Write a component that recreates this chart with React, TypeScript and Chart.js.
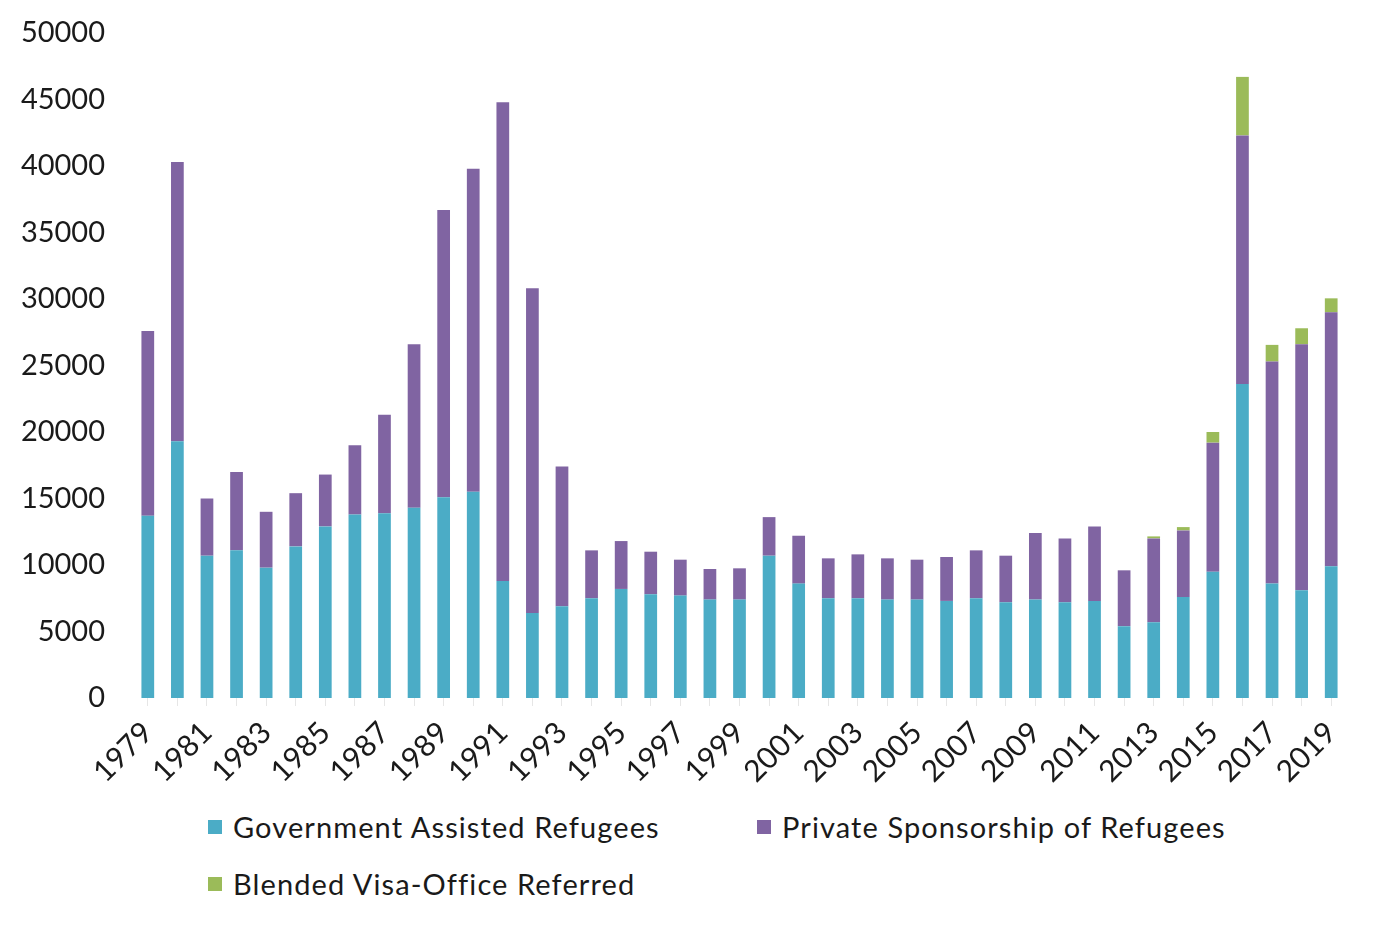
import React, { useEffect, useRef } from "react";
import { Chart, registerables } from "chart.js";

Chart.register(...registerables);

const years = [
  "1979", "1980", "1981", "1982", "1983", "1984", "1985", "1986", "1987", "1988",
  "1989", "1990", "1991", "1992", "1993", "1994", "1995", "1996", "1997", "1998",
  "1999", "2000", "2001", "2002", "2003", "2004", "2005", "2006", "2007", "2008",
  "2009", "2010", "2011", "2012", "2013", "2014", "2015", "2016", "2017", "2018",
  "2019",
];

const governmentAssisted = [
  13700, 19300, 10700, 11100, 9800, 11400, 12900, 13800, 13900, 14300,
  15100, 15500, 8800, 6400, 6900, 7500, 8200, 7800, 7700, 7400,
  7400, 10700, 8600, 7500, 7500, 7400, 7400, 7300, 7500, 7200,
  7400, 7200, 7300, 5400, 5700, 7600, 9500, 23600, 8600, 8100,
  9900,
];

const privateSponsorship = [
  13900, 21000, 4300, 5900, 4200, 4000, 3900, 5200, 7400, 12300,
  21600, 24300, 36000, 24400, 10500, 3600, 3600, 3200, 2700, 2300,
  2350, 2900, 3600, 3000, 3300, 3100, 3000, 3300, 3600, 3500,
  5000, 4800, 5600, 4200, 6300, 5000, 9700, 18700, 16700, 18500,
  19100,
];

const blendedVisaOffice = [
  0, 0, 0, 0, 0, 0, 0, 0, 0, 0,
  0, 0, 0, 0, 0, 0, 0, 0, 0, 0,
  0, 0, 0, 0, 0, 0, 0, 0, 0, 0,
  0, 0, 0, 0, 150, 250, 800, 4400, 1250, 1200,
  1050,
];

const seriesNames = [
  "Government Assisted Refugees",
  "Private Sponsorship of Refugees",
  "Blended Visa-Office Referred",
];
const seriesColors = ["#4BACC6", "#8064A2", "#9BBB59"];

const yMin = 0;
const yMax = 50000;
const yStep = 5000;

const FONT = "Lato, 'Open Sans', sans-serif";

export default function App() {
  const canvasRef = useRef<HTMLCanvasElement | null>(null);

  useEffect(() => {
    const canvas = canvasRef.current;
    if (!canvas) return;
    const values = [governmentAssisted, privateSponsorship, blendedVisaOffice];
    const chart = new Chart(canvas, {
      type: "bar",
      data: {
        labels: years,
        datasets: seriesNames.map((name, i) => ({
          label: name,
          data: values[i],
          backgroundColor: seriesColors[i],
          borderWidth: 0,
          barPercentage: 0.43,
          categoryPercentage: 1,
        })),
      },
      options: {
        responsive: false,
        animation: false,
        devicePixelRatio: 1,
        layout: {
          padding: { top: 25, right: 35, bottom: 0, left: 0 },
        },
        plugins: {
          legend: { display: false },
          tooltip: { enabled: false },
        },
        scales: {
          x: {
            stacked: true,
            border: { display: false },
            grid: {
              offset: false,
              drawOnChartArea: false,
              drawTicks: true,
              tickLength: 8,
              color: "#e6e6e6",
            },
            ticks: {
              autoSkip: false,
              maxRotation: 45,
              minRotation: 45,
              padding: 9,
              color: "#1a1a1a",
              font: { family: FONT, size: 30 },
              callback: (_v: any, idx: number) => (idx % 2 === 0 ? years[idx] : ""),
            },
            afterFit: (scale: any) => {
              scale.height = 102;
              scale.paddingLeft = 0;
              scale.paddingRight = 0;
            },
          },
          y: {
            stacked: true,
            min: yMin,
            max: yMax,
            border: { display: false },
            grid: { display: false, drawTicks: false },
            ticks: {
              stepSize: yStep,
              padding: 28,
              color: "#1a1a1a",
              font: { family: FONT, size: 29 },
              callback: (v: any) => String(v),
            },
            afterFit: (scale: any) => {
              scale.width = 125;
              scale.paddingTop = 0;
              scale.paddingBottom = 0;
            },
          },
        },
      },
    });
    return () => chart.destroy();
  }, []);

  const legendItem = (i: number, left: number, top: number) => (
    <div
      key={i}
      style={{
        position: "absolute",
        left,
        top,
        height: 40,
        display: "flex",
        alignItems: "center",
        whiteSpace: "nowrap",
      }}
    >
      <span
        style={{
          display: "inline-block",
          width: 14,
          height: 14,
          background: seriesColors[i],
          marginRight: 11,
        }}
      />
      <span
        style={{
          fontFamily: FONT,
          fontSize: 29,
          letterSpacing: "1.1px",
          color: "#1a1a1a",
          lineHeight: "40px",
        }}
      >
        {seriesNames[i]}
      </span>
    </div>
  );

  return (
    <div style={{ position: "relative", width: 1373, height: 915 }}>
      <canvas ref={canvasRef} width={1373} height={792} style={{ display: "block" }} />
      {legendItem(0, 200, 799)}
      {legendItem(1, 749, 799)}
      {legendItem(2, 200, 856)}
    </div>
  );
}
